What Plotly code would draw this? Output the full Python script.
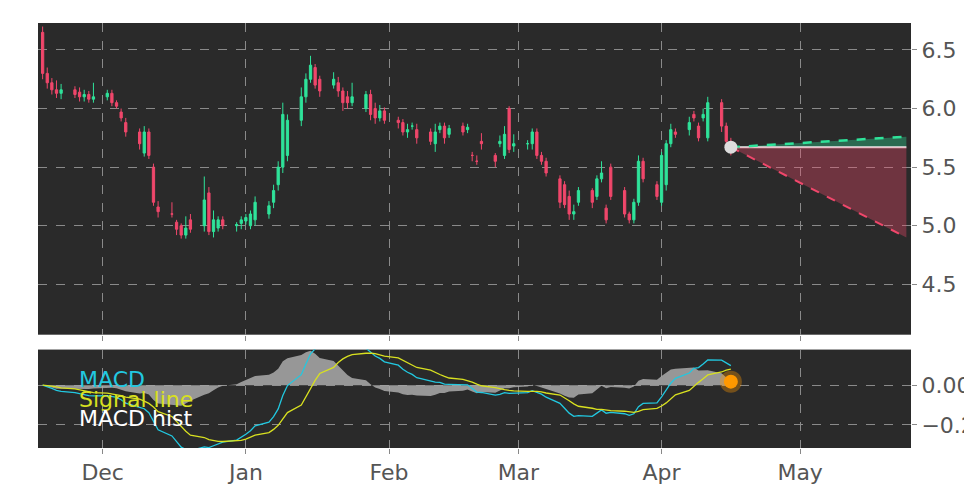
import pandas as pd
import numpy as np
import plotly.graph_objects as go
from plotly.subplots import make_subplots

opens = [6.65,6.30,6.22,6.16,6.13,6.16,6.14,6.10,
 6.12,6.08,6.10,6.13,6.05, 5.97,5.88,5.80,5.62,5.80, 5.50,5.16,5.10,5.03,5.00, 4.92,5.05,5.00,5.28,4.95, 4.98,5.05,
 5.00,5.02,5.04,5.00,5.05, 5.10,5.20,5.35,5.50,5.60, 5.90,6.10,6.25,6.35,6.25, 6.20,6.22,6.15,6.10,6.05, 6.00,6.12,6.00,
 5.92,5.98,5.90,5.88,5.80, 5.85,5.82,5.80,5.70,5.82, 5.85,5.78,5.85,5.82,5.60, 5.55,5.72,5.60,5.70,5.60,
 6.00,5.68,5.70,5.70,5.80, 5.60,5.55,5.40,5.35,5.25, 5.10,5.20,5.30,5.25,5.40, 5.15,5.50,5.30,5.10,5.05, 5.20,
 5.55,5.35,5.20,5.35,5.70, 5.80,5.82,5.95,5.85,5.92, 5.75,6.05,5.85,5.72]
closes = [6.30,6.22,6.16,6.13,6.16,6.12,6.10,6.12,
 6.08,6.10,6.13,6.05,6.02, 5.92,5.80,5.70,5.80,5.60, 5.20,5.12,5.10,4.97,4.92, 4.98,4.97,5.22,4.95,5.05, 5.05,5.00,
 5.01,5.05,5.07,5.10,5.20, 5.17,5.30,5.50,5.95,5.90, 6.10,6.25,6.37,6.20,6.15, 6.25,6.15,6.05,6.05,6.10, 6.12,5.95,5.92,
 5.98,5.90,5.88,5.80,5.82, 5.85,5.75,5.72,5.80,5.85, 5.75,5.83,5.80,5.84,5.60, 5.55,5.70,5.55,5.72,5.78,
 5.65,5.70,5.70,5.80,5.60, 5.55,5.45,5.20,5.18,5.10, 5.12,5.30,5.20,5.40,5.45, 5.05,5.25,5.10,5.05,5.20, 5.55,
 5.40,5.25,5.60,5.70,5.82, 5.78,5.88,5.92,5.75,5.95, 6.05,5.85,5.72,5.67]
wick_up = [0.05,0.05,0.04,0.08,0.05,0.03,0.04,0.04,
 0.03,0.12,0.03,0.03,0.02, 0.03,0.04,0.03,0.05,0.03, 0.03,0.05,0.10,0.02,0.02, 0.10,0.05,0.20,0.05,0.08, 0.03,0.03,
 0.02,0.03,0.03,0.03,0.05, 0.04,0.05,0.05,0.10,0.05, 0.08,0.05,0.08,0.03,0.03, 0.06,0.05,0.03,0.05,0.12, 0.03,0.04,0.05,
 0.05,0.03,0.03,0.03,0.05, 0.03,0.05,0.03,0.07,0.03, 0.03,0.03,0.03,0.03,0.03, 0.05,0.07,0.02,0.05,0.07,
 0.02,0.08,0.03,0.03,0.03, 0.03,0.03,0.03,0.03,0.05, 0.06,0.03,0.02,0.03,0.10, 0.03,0.03,0.03,0.02,0.03, 0.05,
 0.03,0.03,0.03,0.03,0.05, 0.03,0.05,0.03,0.03,0.05, 0.05,0.03,0.03,0.03]
wick_dn = [0.05,0.05,0.04,0.04,0.05,0.03,0.04,0.04,
 0.03,0.03,0.03,0.03,0.02, 0.03,0.04,0.05,0.03,0.03, 0.03,0.05,0.03,0.05,0.03, 0.03,0.03,0.05,0.03,0.05, 0.03,0.03,
 0.05,0.05,0.03,0.03,0.05, 0.04,0.05,0.05,0.05,0.05, 0.05,0.05,0.03,0.03,0.05, 0.03,0.05,0.07,0.05,0.03, 0.03,0.05,0.05,
 0.03,0.03,0.05,0.03,0.05, 0.03,0.05,0.03,0.07,0.03, 0.05,0.03,0.03,0.03,0.05, 0.03,0.05,0.05,0.03,0.03,
 0.03,0.05,0.05,0.05,0.03, 0.03,0.03,0.05,0.03,0.05, 0.05,0.03,0.05,0.03,0.03, 0.03,0.03,0.03,0.03,0.03, 0.03,
 0.03,0.03,0.03,0.05,0.03, 0.03,0.05,0.03,0.03,0.03, 0.03,0.05,0.05,0.07]
start_date = "2024-11-18"
last_price = 5.67
forecast_end = "2025-05-24"
forecast_hi = 5.76
forecast_lo = 4.90
forecast_start = "2025-04-16"

n = len(closes)
dates = pd.bdate_range(start_date, periods=n)
highs = [max(o, c) + w for o, c, w in zip(opens, closes, wick_up)]
lows = [min(o, c) - w for o, c, w in zip(opens, closes, wick_dn)]

s = pd.Series(closes, index=dates)
macd = s.ewm(span=12, adjust=False).mean() - s.ewm(span=26, adjust=False).mean()
signal = macd.ewm(span=9, adjust=False).mean()
hist = macd - signal

GREEN = "#2fe39a"; RED = "#f0476b"
fig = make_subplots(rows=2, cols=1, shared_xaxes=True, row_heights=[0.76, 0.24], vertical_spacing=0.035)
fig.add_trace(go.Candlestick(x=dates, open=opens, high=highs, low=lows, close=closes,
    increasing=dict(line=dict(color=GREEN, width=1), fillcolor=GREEN),
    decreasing=dict(line=dict(color=RED, width=1), fillcolor=RED), whiskerwidth=0, showlegend=False), 1, 1)
fx = [forecast_start, forecast_end]
fig.add_trace(go.Scatter(x=fx, y=[last_price, last_price], mode="lines", line=dict(color="#e8e8e8", width=2), showlegend=False), 1, 1)
fig.add_trace(go.Scatter(x=fx, y=[last_price, forecast_hi], mode="lines", line=dict(color=GREEN, width=2.5, dash="dash"),
    fill="tonexty", fillcolor="rgba(47,227,154,0.35)", showlegend=False), 1, 1)
fig.add_trace(go.Scatter(x=fx, y=[last_price, last_price], mode="lines", line=dict(width=0), showlegend=False, hoverinfo="skip"), 1, 1)
fig.add_trace(go.Scatter(x=fx, y=[last_price, forecast_lo], mode="lines", line=dict(color=RED, width=2, dash="dash"),
    fill="tonexty", fillcolor="rgba(240,71,107,0.35)", showlegend=False), 1, 1)
fig.add_trace(go.Scatter(x=[forecast_start], y=[last_price], mode="markers", marker=dict(color="#dddddd", size=13), showlegend=False), 1, 1)

fig.add_trace(go.Scatter(x=dates, y=hist, mode="lines", line=dict(color="#9a9a9a", width=0), fill="tozeroy",
    fillcolor="rgba(170,170,170,0.85)", showlegend=False), 2, 1)
fig.add_trace(go.Scatter(x=dates, y=macd, mode="lines", line=dict(color="#22c8e0", width=1.3), showlegend=False), 2, 1)
fig.add_trace(go.Scatter(x=dates, y=signal, mode="lines", line=dict(color="#d8e020", width=1.3), showlegend=False), 2, 1)
fig.add_trace(go.Scatter(x=[dates[-1]], y=[hist.iloc[-1]], mode="markers", marker=dict(color="#ff9900", size=14,
    line=dict(color="rgba(255,153,0,0.35)", width=8)), showlegend=False), 2, 1)

for t, c, yy in [("MACD", "#22c8e0", 0.84), ("Signal line", "#d8e020", 0.49), ("MACD hist", "white", 0.15)]:
    fig.add_annotation(text=t, xref="x2 domain", yref="y2 domain", x=0.045, y=yy, showarrow=False,
                       xanchor="left", font=dict(color=c, size=22))

grid = dict(showgrid=True, gridcolor="#8a8a8a", griddash="dash", gridwidth=1, zeroline=False, automargin=False,
            tickfont=dict(size=22, color="#555"), ticks="outside", tickcolor="#888")
fig.update_xaxes(**grid, range=["2024-11-17", "2025-05-25"], rangeslider_visible=False,
                 dtick="M1", tickformat="%b", tick0="2024-12-01")
fig.update_xaxes(showticklabels=False, row=1, col=1)
fig.update_yaxes(**grid, side="right")
fig.update_yaxes(range=[4.07, 6.73], tickvals=[4.5, 5.0, 5.5, 6.0, 6.5], tickformat=".1f", row=1, col=1)
fig.update_yaxes(range=[-0.317, 0.18], tickvals=[-0.2, 0.0], ticktext=["−0.2", "0.00"], row=2, col=1)
fig.update_layout(width=972, height=486, margin=dict(l=30, r=69, t=15, b=46), paper_bgcolor="white",
                  plot_bgcolor="#2a2a2a", font=dict(family="DejaVu Sans"))
fig.write_html("out.html")
